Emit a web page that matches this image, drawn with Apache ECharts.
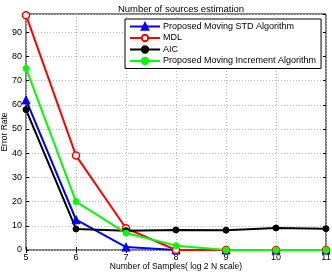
<!DOCTYPE html>
<html><head><meta charset="utf-8">
<script src="https://cdn.jsdelivr.net/npm/echarts@6/dist/echarts.min.js"></script>
<style>html,body{margin:0;padding:0;background:#fff}#c{width:332px;height:275px}</style>
</head><body><div id="c"></div>
<script>
const xValues = [5, 6, 7, 8, 9, 10, 11];
const stdValues = [62, 12.5, 1.2, 0, 0, 0, 0];
const mdlValues = [97, 39, 9, 0, 0, 0, 0];
const aicValues = [58, 8.7, 8, 8.3, 8.2, 9.1, 8.8];
const incValues = [75, 20, 7, 1.8, 0, 0, 0];
const seriesNames = ['Proposed Moving STD Algorithm', 'MDL', 'AIC', 'Proposed Moving Increment Algorithm'];
const yTicks = [0, 10, 20, 30, 40, 50, 60, 70, 80, 90];

const pairs = a => xValues.map((x, i) => [x, a[i]]);
const font = 'Arial, "Liberation Sans", sans-serif';
const chart = echarts.init(document.getElementById('c'));
const mk = (name, data, color, symbol, size, fill) => ({
  name, type: 'line', data: pairs(data), symbol, symbolSize: size,
  lineStyle: {color, width: 2}, itemStyle: {color: fill, borderColor: color, borderWidth: fill === '#fff' ? 1.5 : 1},
  animation: false
});
chart.setOption({
  animation: false,
  title: {text: 'Number of sources estimation', left: 176, textAlign: 'center', top: -1,
    textStyle: {fontFamily: font, fontSize: 9.5, fontWeight: 'normal', color: '#000'}},
  grid: {left: 26, right: 6, top: 14, bottom: 25, show: true, borderColor: '#000', borderWidth: 1,
    containLabel: false, outerBoundsMode: 'none'},
  legend: {orient: 'vertical', left: 125, top: 19, itemWidth: 30, itemHeight: 8, itemGap: 2.5,
    padding: [3, 5, 3, 4], backgroundColor: '#fff', borderColor: '#000', borderWidth: 1,
    textStyle: {fontFamily: font, fontSize: 9, color: '#000', padding: [0, 0, 0, -2]}, data: seriesNames},
  xAxis: [{type: 'value', min: 5, max: 11, interval: 1, name: 'Number of Samples( log 2 N scale)',
    nameLocation: 'middle', nameGap: 12, nameMoveOverlap: false, nameTextStyle: {fontFamily: font, fontSize: 8.5, color: '#000'},
    axisLine: {show: false}, axisTick: {inside: true, length: 3, lineStyle: {color: '#000'}},
    axisLabel: {fontFamily: font, fontSize: 9, color: '#000', margin: 3},
    splitLine: {show: true, lineStyle: {color: '#bbb', type: [1, 2], width: 1}}},
    {type: 'value', position: 'top', min: 5, max: 11, interval: 1, axisLine: {show: false},
    axisTick: {inside: true, length: 3, lineStyle: {color: '#000'}}, axisLabel: {show: false}, splitLine: {show: false}}],
  yAxis: [{type: 'value', min: 0, max: 97.5, interval: 10, name: 'Error Rate', nameLocation: 'middle', nameGap: 17,
    nameMoveOverlap: false,
    nameTextStyle: {fontFamily: font, fontSize: 8.5, color: '#000'},
    axisLine: {show: false}, axisTick: {inside: true, length: 3, lineStyle: {color: '#000'}},
    axisLabel: {fontFamily: font, fontSize: 9, color: '#000', margin: 4, showMaxLabel: false,
      formatter: v => yTicks.includes(v) ? String(v) : ''},
    splitLine: {show: true, lineStyle: {color: '#bbb', type: [1, 2], width: 1}}},
    {type: 'value', position: 'right', min: 0, max: 97.5, interval: 10, axisLine: {show: false},
    axisTick: {inside: true, length: 3, lineStyle: {color: '#000'}}, axisLabel: {show: false}, splitLine: {show: false}}],
  series: [
    mk(seriesNames[0], stdValues, '#0000ff', 'triangle', 8, '#0000ff'),
    mk(seriesNames[1], mdlValues, '#ff0000', 'circle', 7, '#fff'),
    mk(seriesNames[2], aicValues, '#000000', 'circle', 6, '#000000'),
    mk(seriesNames[3], incValues, '#00ff00', 'circle', 6, '#00ff00')
  ]
});
</script></body></html>
